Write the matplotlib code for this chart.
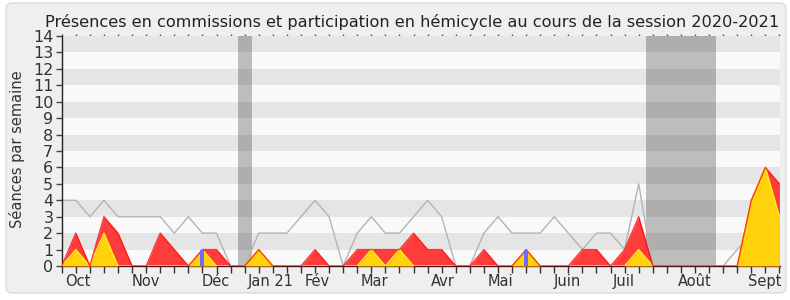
import matplotlib
matplotlib.use("Agg")
import matplotlib.pyplot as plt
from matplotlib.patches import FancyBboxPatch
import numpy as np

plt.rcParams["font.family"] = ["DejaVu Sans"]

# ---- data (weekly values, session 2020-2021) ----
hemicycle_total = [4, 4, 3, 4, 3, 3, 3, 3, 2, 3, 2, 2, 0, 0, 2, 2, 2, 3, 4, 3, 0, 2, 3, 2, 2, 3,
                   4, 3, 0, 0, 2, 3, 2, 2, 2, 3, 2, 1, 2, 2, 1, 5, 0, 0, 0, 0, 0, 0, 1, 2, 2, 2]
commission = [0, 2, 0, 3, 2, 0, 0, 2, 1, 0, 1, 1, 0, 0, 1, 0, 0, 0, 1, 0, 0, 1, 1, 1, 1, 2,
              1, 1, 0, 0, 1, 0, 0, 1, 0, 0, 0, 1, 1, 0, 1, 3, 0, 0, 0, 0, 0, 0, 0, 4, 6, 5]
hemicycle = [0, 1, 0, 2, 0, 0, 0, 0, 0, 0, 1, 0, 0, 0, 1, 0, 0, 0, 0, 0, 0, 0, 1, 0, 1, 0,
             0, 0, 0, 0, 0, 0, 0, 1, 0, 0, 0, 0, 0, 0, 0, 1, 0, 0, 0, 0, 0, 0, 0, 4, 6, 3]
question_weeks = [10, 33]
question_values = [1, 1]
holiday_ranges = [(13, 13), (42, 46)]
month_labels = ["Oct", "Nov", "Déc", "Jan 21", "Fév", "Mar", "Avr", "Mai", "Juin", "Juil", "Août", "Sept"]
month_weeks = [1.15, 5.95, 10.95, 14.85, 18.15, 22.2, 27.1, 31.2, 35.95, 39.9, 45.0, 49.95]
title = "Présences en commissions et participation en hémicycle au cours de la session 2020-2021"
ylabel = "Séances par semaine"

weeks = np.arange(len(commission))

fig = plt.figure(figsize=(7.9, 3.0), dpi=100)
fig.patch.set_facecolor("white")
frame = FancyBboxPatch((6, 7), 780, 290, boxstyle="round,pad=0,rounding_size=6",
                       transform=None, facecolor="#efefef", edgecolor="#dadada",
                       linewidth=1, zorder=-10)
fig.patches.append(frame)

ax = fig.add_axes([61.7 / 790, 34 / 300, (780 - 61.7) / 790, (266 - 36) / 300])
ax.set_zorder(1)
ax.set_facecolor("#f9f9f9")
ax.set_xlim(0, weeks[-1] + 0.04)
ax.set_ylim(0, 14)

# stripes
for lo in range(1, 14, 2):
    ax.axhspan(lo, lo + 1, color="#e5e5e5", lw=0, zorder=0.5)

# holidays
for a, b in holiday_ranges:
    ax.axvspan(a - 0.5, b + 0.5, color="black", alpha=0.24, lw=0, zorder=0.8)

ax.plot(weeks, hemicycle_total, color="#b4b4b4", lw=1.0, zorder=1)
ax.fill_between(weeks, commission, color="#ff3c3c", lw=0, zorder=2)
ax.fill_between(weeks, hemicycle, color="#ffd20c", lw=0, zorder=3)
ax.plot(weeks, hemicycle, color="#ffee22", lw=1.0, zorder=3.5)
ax.plot(weeks, commission, color="#ff0000", lw=1.0, alpha=0.75, zorder=4)
ax.bar(question_weeks, question_values, width=0.28, color="#6b6bff", lw=0, zorder=5)

for s in ["top", "right"]:
    ax.spines[s].set_visible(False)
ax.spines["left"].set_color("#222222")
ax.spines["bottom"].set_color("#5a1010")
ax.spines["left"].set_linewidth(1)
ax.spines["bottom"].set_linewidth(1)

ax.set_yticks(range(0, 15))
ax.tick_params(axis="y", length=4, width=1, color="#444444", pad=2, labelsize=11.5,
               labelcolor="#333333")
ax.xaxis.remove_overlapping_locs = False
ax.set_xticks(weeks)
ax.set_xticklabels([])
ax.tick_params(axis="x", which="major", length=5, width=1, color="#333333")
ax.set_xticks(month_weeks, minor=True)
ax.set_xticklabels(month_labels, minor=True)
ax.tick_params(axis="x", which="minor", length=0, pad=6, labelsize=10.5, labelcolor="#333333")

sec = ax.secondary_xaxis("top")
sec.set_xticks(weeks)
sec.set_xticklabels([])
sec.tick_params(length=1.2, width=1, color="#555555")
sec.spines["top"].set_visible(False)

fig.text(412 / 790, (300 - 27) / 300, title, ha="center", va="baseline",
         fontsize=11.6, color="#222222")
fig.text(17 / 790, 151 / 300, ylabel, rotation=90, ha="center", va="center",
         fontsize=10.5, color="#333333")

fig.savefig("out.png", dpi=100, facecolor=fig.get_facecolor())
